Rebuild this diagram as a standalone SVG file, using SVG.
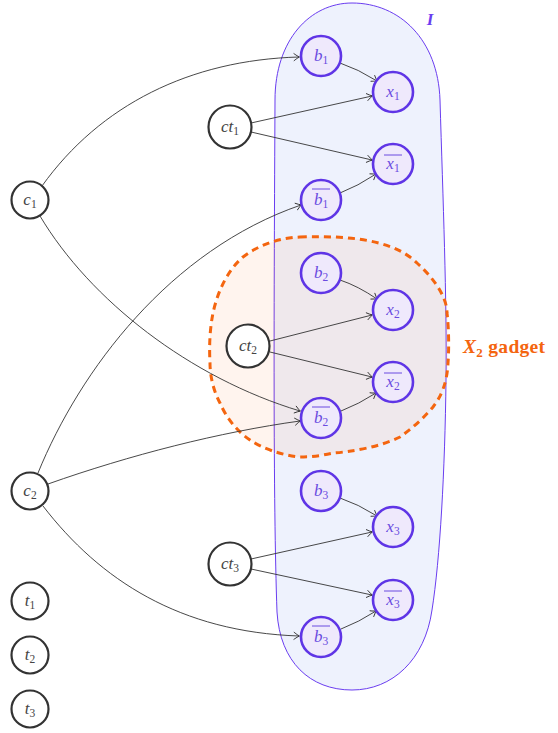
<svg xmlns="http://www.w3.org/2000/svg" width="558" height="733" viewBox="0 0 558 733">
<defs>
<marker id="arr" viewBox="-6 -5 8 10" markerWidth="8" markerHeight="10" refX="0" refY="0" orient="auto" markerUnits="userSpaceOnUse">
<path d="M -5,-3.5 Q -1.5,-0.8 0.5,0 Q -1.5,0.8 -5,3.5" fill="none" stroke="#333" stroke-width="0.9" stroke-linecap="round"/>
</marker>
<style>
.e{fill:none;stroke:#333;stroke-width:0.9;marker-end:url(#arr)}
.bn circle{fill:#fff;stroke:#333;stroke-width:2.2}
.pn circle{fill:#efe9fc;stroke:#5f35e6;stroke-width:2.6}
.bn text{fill:#444;font-family:"Liberation Serif",serif;font-style:italic;font-size:17px;text-anchor:middle}
.pn text{fill:#6a4be0;font-family:"Liberation Serif",serif;font-style:italic;font-size:17px;text-anchor:middle}
.s{font-style:normal;font-size:11.5px}
.ov{stroke:#6a4be0;stroke-width:1}
</style>
</defs>
<g id="region-I">
<path d="M 275,100 C 275,40 310,3 352,3 C 400,3 438,40 440,100 C 443,200 447,300 446,380 C 445,470 440,560 432,610 C 425,660 392,690 352,690 C 310,690 280,662 277,612 C 273,500 274,300 275,100 Z" fill="#eef2fd" stroke="#6a3df0" stroke-width="1"/>
<text x="430" y="25" fill="#6a3df0" font-family="Liberation Serif,serif" font-style="italic" font-weight="bold" font-size="17" text-anchor="middle">I</text>
</g>
<g id="gadget-X2">
<path d="M 300,237 C 335,236 390,236 417,263 C 438,282 447,300 447,313 C 449,330 449,350 448,363 C 447,385 440,398 433,407 C 422,420 410,430 400,437 C 380,447 350,452 333,453 C 320,456 310,457 300,457 C 280,455 262,448 250,440 C 235,430 225,415 220,403 C 213,390 210,375 210,363 C 209,345 210,328 213,313 C 218,290 228,270 243,257 C 260,244 280,238 300,237 Z" fill="#fa7828" fill-opacity="0.08" stroke="#f4650f" stroke-width="3" stroke-dasharray="7,5"/>
<text x="463" y="353" fill="#f4650f" font-family="Liberation Serif,serif" font-weight="bold" font-size="19.5" letter-spacing="0.3"><tspan font-style="italic">X</tspan><tspan font-size="13" dy="4">2</tspan><tspan dy="-4"> gadget</tspan></text>
</g>
<g id="connectors">
<path class="e" d="M 42,186 C 100,105 190,60 299,57"/>
<path class="e" d="M 40,216 C 90,300 190,378 300,411"/>
<path class="e" d="M 38,473 C 80,370 170,250 301,205"/>
<path class="e" d="M 48,484 C 130,455 220,432 300,421"/>
<path class="e" d="M 43,506 C 100,580 180,632 299,636"/>
<path class="e" d="M 251,123 L 372,96"/>
<path class="e" d="M 251,132 L 372,160"/>
<path class="e" d="M 270,341 L 372,315"/>
<path class="e" d="M 270,352 L 372,377"/>
<path class="e" d="M 251,559 L 372,532"/>
<path class="e" d="M 251,569 L 372,595"/>
<path class="e" d="M 340,63 Q 358,69 377,81"/>
<path class="e" d="M 340,193 Q 358,186 376,174"/>
<path class="e" d="M 340,280 Q 358,286 377,299"/>
<path class="e" d="M 341,411 Q 359,404 376,393"/>
<path class="e" d="M 340,498 Q 358,504 377,516"/>
<path class="e" d="M 341,629 Q 359,622 376,611"/>
</g>
<g id="c1" class="bn"><circle cx="30" cy="200" r="18.5"/><text x="30" y="205">c<tspan class="s" dy="3">1</tspan></text></g>
<g id="c2" class="bn"><circle cx="30" cy="491" r="18.5"/><text x="30" y="496">c<tspan class="s" dy="3">2</tspan></text></g>
<g id="t1" class="bn"><circle cx="30" cy="601" r="18.5"/><text x="30" y="606">t<tspan class="s" dy="3">1</tspan></text></g>
<g id="t2" class="bn"><circle cx="30" cy="655" r="18.5"/><text x="30" y="660">t<tspan class="s" dy="3">2</tspan></text></g>
<g id="t3" class="bn"><circle cx="30" cy="709" r="18.5"/><text x="30" y="714">t<tspan class="s" dy="3">3</tspan></text></g>
<g id="ct1" class="bn"><circle cx="230" cy="127" r="21.5"/><text x="230" y="132">ct<tspan class="s" dy="3">1</tspan></text></g>
<g id="ct2" class="bn"><circle cx="248" cy="346" r="21.5"/><text x="248" y="351">ct<tspan class="s" dy="3">2</tspan></text></g>
<g id="ct3" class="bn"><circle cx="230" cy="564" r="21.5"/><text x="230" y="569">ct<tspan class="s" dy="3">3</tspan></text></g>
<g id="b1" class="pn"><circle cx="321" cy="56" r="20"/><text x="321" y="61">b<tspan class="s" dy="3">1</tspan></text></g>
<g id="x1" class="pn"><circle cx="393" cy="92" r="20"/><text x="393" y="97">x<tspan class="s" dy="3">1</tspan></text></g>
<g id="xbar1" class="pn"><circle cx="393" cy="164" r="20"/><text x="393" y="169">x<tspan class="s" dy="3">1</tspan></text><line class="ov" x1="384" y1="155" x2="402" y2="155"/></g>
<g id="bbar1" class="pn"><circle cx="321" cy="200" r="20"/><text x="321" y="205">b<tspan class="s" dy="3">1</tspan></text><line class="ov" x1="312" y1="189" x2="330" y2="189"/></g>
<g id="b2" class="pn"><circle cx="321" cy="273" r="20"/><text x="321" y="278">b<tspan class="s" dy="3">2</tspan></text></g>
<g id="x2" class="pn"><circle cx="393" cy="310" r="20"/><text x="393" y="315">x<tspan class="s" dy="3">2</tspan></text></g>
<g id="xbar2" class="pn"><circle cx="393" cy="382" r="20"/><text x="393" y="387">x<tspan class="s" dy="3">2</tspan></text><line class="ov" x1="384" y1="373" x2="402" y2="373"/></g>
<g id="bbar2" class="pn"><circle cx="321" cy="418" r="20"/><text x="321" y="423">b<tspan class="s" dy="3">2</tspan></text><line class="ov" x1="312" y1="407" x2="330" y2="407"/></g>
<g id="b3" class="pn"><circle cx="321" cy="491" r="20"/><text x="321" y="496">b<tspan class="s" dy="3">3</tspan></text></g>
<g id="x3" class="pn"><circle cx="393" cy="527" r="20"/><text x="393" y="532">x<tspan class="s" dy="3">3</tspan></text></g>
<g id="xbar3" class="pn"><circle cx="393" cy="600" r="20"/><text x="393" y="605">x<tspan class="s" dy="3">3</tspan></text><line class="ov" x1="384" y1="591" x2="402" y2="591"/></g>
<g id="bbar3" class="pn"><circle cx="321" cy="637" r="20"/><text x="321" y="642">b<tspan class="s" dy="3">3</tspan></text><line class="ov" x1="312" y1="626" x2="330" y2="626"/></g>
</svg>
